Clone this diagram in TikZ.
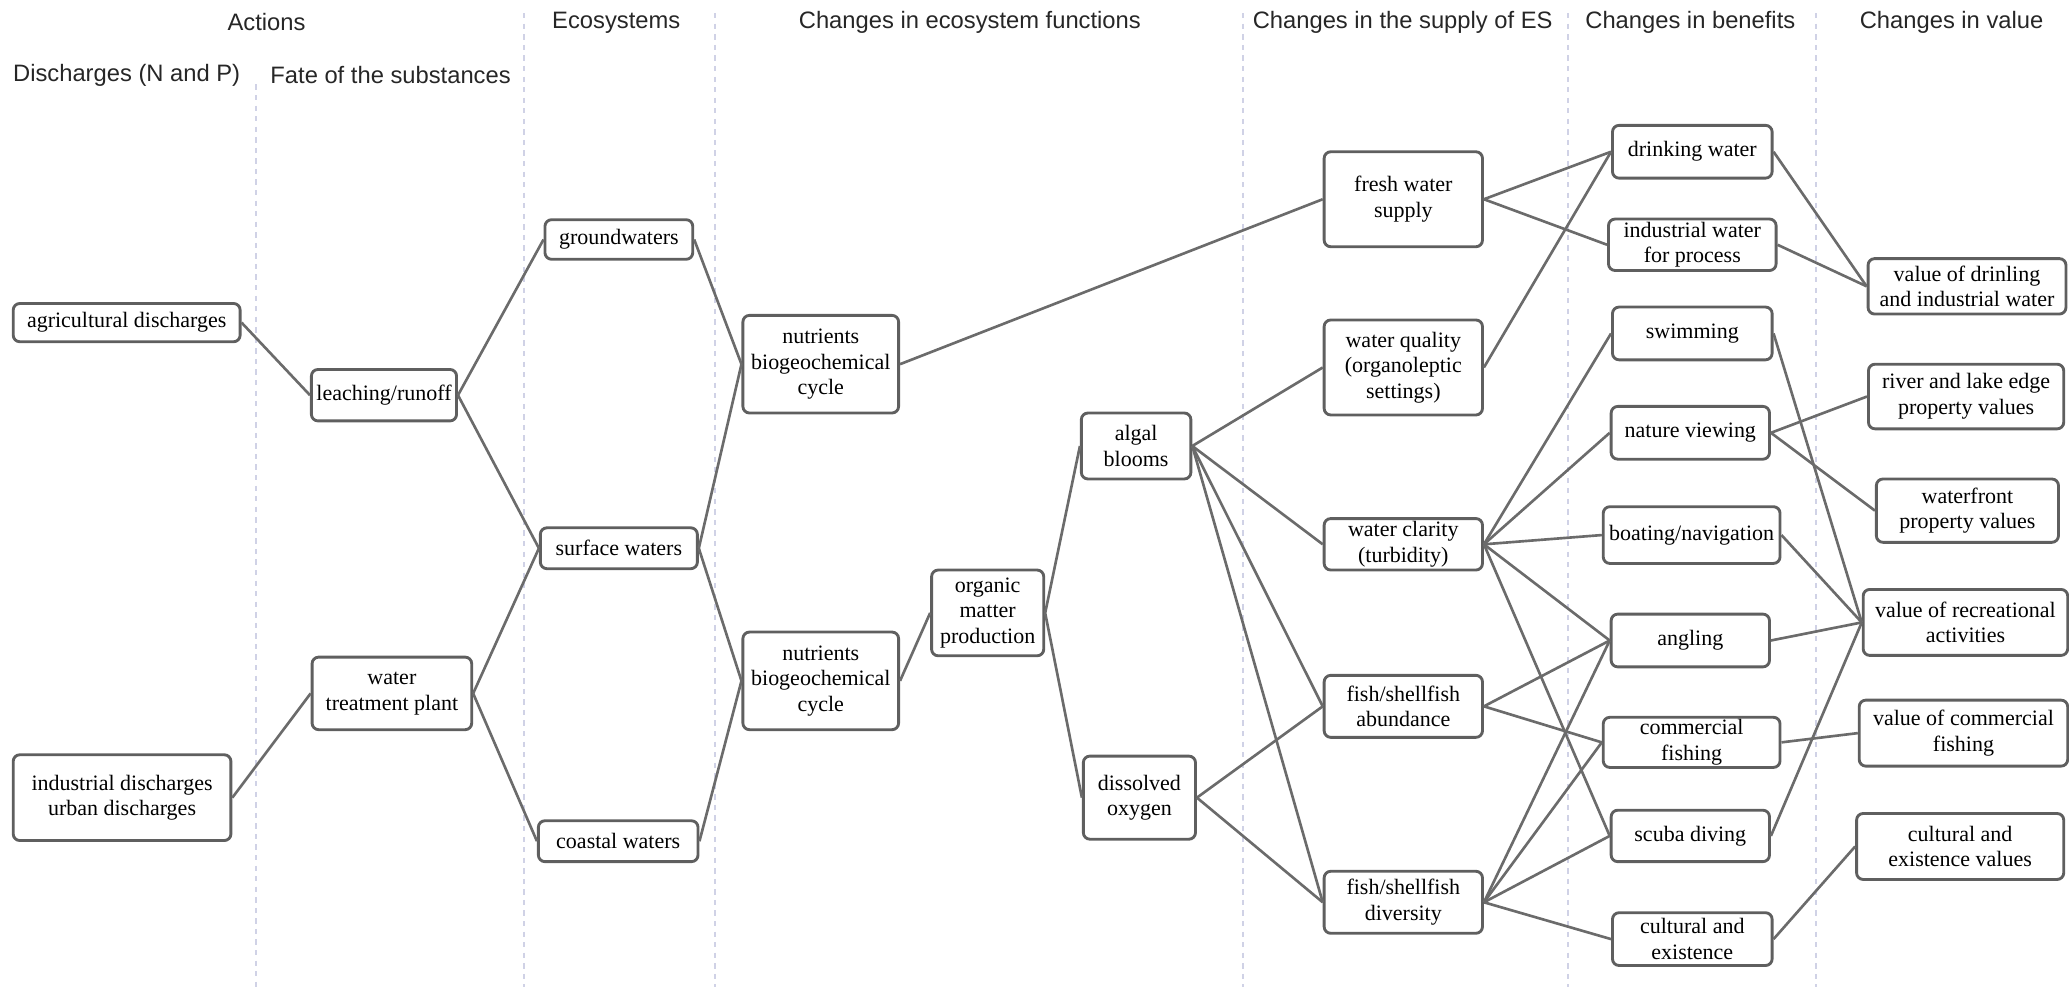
\documentclass[tikz,border=0pt]{standalone}
\usepackage{fontspec}
\setmainfont{Liberation Serif}
\setsansfont{Liberation Sans}
\definecolor{boxgray}{RGB}{95,95,95}
\definecolor{linkgray}{RGB}{107,107,107}
\definecolor{sepblue}{RGB}{208,210,230}
\definecolor{headgray}{RGB}{38,38,38}
\begin{document}
\begin{tikzpicture}[x=0.6pt, y=-0.6pt,
		box/.style={draw=boxgray, fill=white, line width=1.3pt, rounded corners=3pt, align=center, inner sep=1pt, font=\fontsize{10}{11.7}\selectfont},
		wh/.style 2 args={minimum width=#1*0.6pt, minimum height=#2*0.6pt},
		head/.style={font=\sffamily\fontsize{10.8}{13}\selectfont, text=headgray},
		link/.style={draw=linkgray, line width=1.2pt},
		sep/.style={draw=sepblue, line width=1pt, dash pattern=on 2.4pt off 2.4pt}]
			\useasboundingbox (0,0) rectangle (1568,750);

			\foreach \x/\t in {194/64, 397/10, 542/10, 942/10, 1188/10, 1376/10}
			{
				\draw [sep] (\x,\t) to (\x,748);
			}

			\node [head] (h_actions) at (202,17) {Actions};
			\node [head] (h_eco) at (467,17) {Ecosystems};
			\node [head] (h_func) at (735,17) {Changes in ecosystem functions};
			\node [head] (h_supply) at (1063,17) {Changes in the supply of ES};
			\node [head] (h_benef) at (1281,17) {Changes in benefits};
			\node [head] (h_value) at (1479,17) {Changes in value};
			\node [head] (h_disch) at (96,57) {Discharges (N and P)};
			\node [head] (h_fate) at (296,57) {Fate of the substances};

			\node [box, wh={172}{29}] (n_agri) at (96,244.5) {agricultural discharges};
			\node [box, wh={165}{65}] (n_indus) at (92.5,604.5) {industrial discharges\\urban discharges};
			\node [box, wh={110}{39}] (n_leach) at (291,299.5) {leaching/runoff};
			\node [box, wh={121}{55}] (n_plant) at (297,525.5) {water\\treatment plant};
			\node [box, wh={112}{30}] (n_ground) at (469,181.5) {groundwaters};
			\node [box, wh={119}{31}] (n_surface) at (469,415.5) {surface waters};
			\node [box, wh={121}{31}] (n_coastal) at (468.5,637.5) {coastal waters};
			\node [box, wh={118}{74}] (n_nutA) at (622,276) {nutrients\\biogeochemical\\cycle};
			\node [box, wh={118}{74}] (n_nutB) at (622,516) {nutrients\\biogeochemical\\cycle};
			\node [box, wh={85}{65}] (n_organic) at (748.5,464.5) {organic\\matter\\production};
			\node [box, wh={83}{50}] (n_algal) at (861,338) {algal\\blooms};
			\node [box, wh={85}{63}] (n_oxygen) at (863.5,604.5) {dissolved\\oxygen};
			\node [box, wh={120}{72}] (n_fresh) at (1063.5,151) {fresh water\\supply};
			\node [box, wh={120}{72}] (n_quality) at (1063.5,278.5) {water quality\\(organoleptic\\settings)};
			\node [box, wh={120}{39}] (n_clarity) at (1063.5,412.5) {water clarity\\(turbidity)};
			\node [box, wh={120}{47}] (n_abund) at (1063.5,535.3) {fish/shellfish\\abundance};
			\node [box, wh={120}{47}] (n_divers) at (1063.5,683.8) {fish/shellfish\\diversity};

			\node [box, wh={121}{40}] (n_drink) at (1282.5,115) {drinking water};
			\node [box, wh={127}{39}] (n_indwater) at (1282.5,185.5) {industrial water\\for process};
			\node [box, wh={121}{40}] (n_swim) at (1282.5,252.7) {swimming};
			\node [box, wh={120}{40}] (n_nature) at (1281,328) {nature viewing};
			\node [box, wh={134}{43}] (n_boat) at (1282,405.5) {boating/navigation};
			\node [box, wh={120}{40}] (n_angling) at (1281,485.4) {angling};
			\node [box, wh={134}{38}] (n_commfish) at (1282,562.6) {commercial\\fishing};
			\node [box, wh={120}{39}] (n_scuba) at (1281,633.5) {scuba diving};
			\node [box, wh={121}{40}] (n_culture) at (1282.5,711.7) {cultural and\\existence};

			\node [box, wh={150}{42}] (n_valdrink) at (1490.7,217) {value of drinling\\and industrial water};
			\node [box, wh={148}{49}] (n_valedge) at (1490,300.5) {river and lake edge\\property values};
			\node [box, wh={138}{48}] (n_valfront) at (1491,387) {waterfront\\property values};
			\node [box, wh={155}{50}] (n_valrecr) at (1489.5,471.7) {value of recreational\\activities};
			\node [box, wh={158}{50}] (n_valcomm) at (1488,555.6) {value of commercial\\fishing};
			\node [box, wh={157}{50}] (n_valcult) at (1485.5,641.5) {cultural and\\existence values};

			\foreach \a/\b in {agri/leach, indus/plant, leach/ground, leach/surface, plant/surface, plant/coastal,
				ground/nutA, surface/nutA, surface/nutB, coastal/nutB, nutA/fresh, nutB/organic,
				organic/algal, organic/oxygen, algal/quality, algal/clarity, algal/abund, algal/divers,
				oxygen/abund, oxygen/divers, fresh/drink, fresh/indwater, quality/drink,
				clarity/swim, clarity/nature, clarity/boat, clarity/angling, clarity/scuba,
				abund/angling, abund/commfish, divers/angling, divers/commfish, divers/scuba, divers/culture,
				drink/valdrink, indwater/valdrink, swim/valrecr, nature/valedge, nature/valfront,
				boat/valrecr, angling/valrecr, scuba/valrecr, commfish/valcomm, culture/valcult}
			{
				\draw [link] (n_\a.east) to (n_\b.west);
			}
		\end{tikzpicture}
\end{document}
